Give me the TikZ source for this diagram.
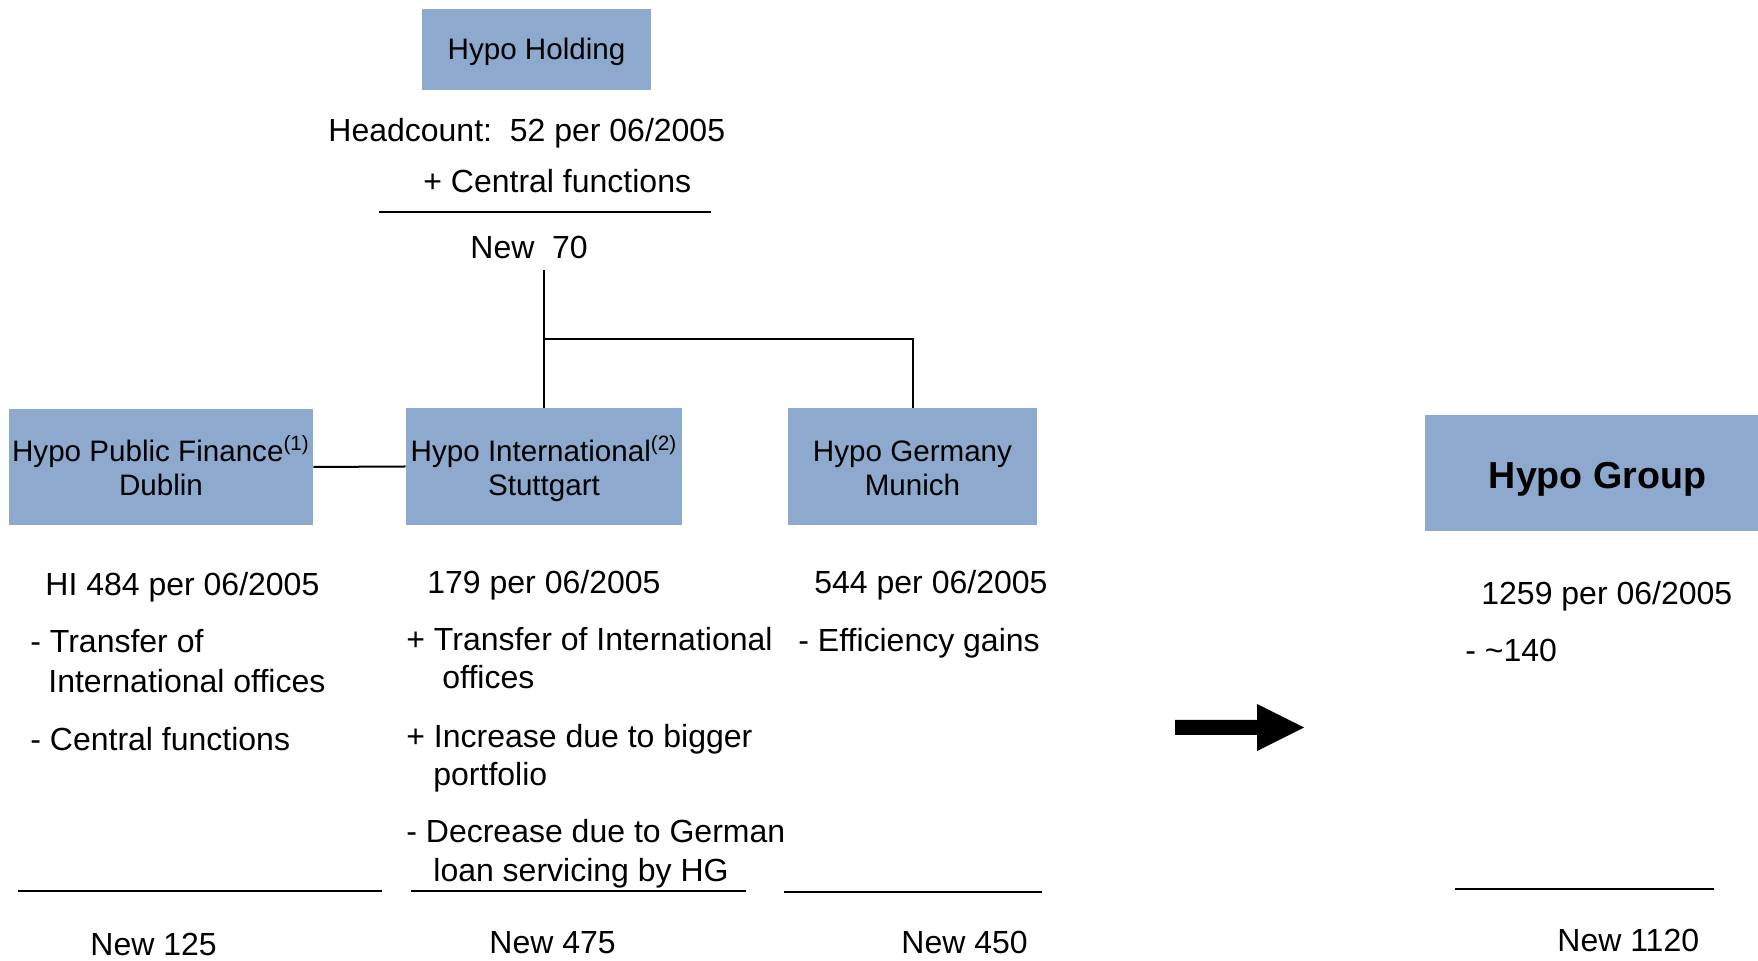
\documentclass[tikz,border=0pt]{standalone}
\usepackage{fontspec}
\setmainfont{Liberation Sans}
\newcommand{\boxlines}[2]{\raisebox{-#1}[0pt][0pt]{\begin{tabular}[b]{@{}c@{}}#2\end{tabular}}}
\begin{document}
\begin{tikzpicture}[x=0.5pt,y=-0.5pt,
  box/.style={fill=boxblue,draw=none,inner sep=0pt,align=center,font=\fontsize{14.8}{17.3}\selectfont},
  txt/.style={anchor=base west,inner sep=0pt,font=\fontsize{16}{19}\selectfont},
  conn/.style={line width=1pt,black},
  rule/.style={line width=1pt,black}]
\definecolor{boxblue}{RGB}{141,169,205}
\useasboundingbox (0,0) rectangle (1758,961);
% boxes
\node[box,minimum width=114.5pt,minimum height=40.5pt] (hold) at (536.5,49.5) {\raisebox{-5.25pt}[0pt][0pt]{Hypo Holding}};
\node[box,minimum width=152pt,minimum height=58pt] (dub) at (161,467) {\boxlines{14.5pt}{Hypo Public Finance\textsuperscript{(1)}\\Dublin}};
\node[box,minimum width=138pt,minimum height=58.5pt] (stu) at (544,466.5) {\boxlines{14.75pt}{Hypo International\textsuperscript{(2)}\\Stuttgart}};
\node[box,minimum width=124.5pt,minimum height=58.5pt] (mun) at (912.5,466.5) {\boxlines{14.75pt}{Hypo Germany\\Munich}};
\node[box,minimum width=166.5pt,minimum height=58pt,font=\fontsize{18.8}{22}\selectfont\bfseries] (grp) at (1591.5,473) {\hspace*{6pt}\raisebox{-8pt}[0pt][0pt]{Hypo Group}};
% holding texts
\node[txt] (hc) at (328,142) {Headcount:\ \ 52 per 06/2005};
\node[txt] (cf) at (423,193) {+ Central functions};
\draw[rule] (379,212) -- (711,212);
\node[txt] (n70) at (470,259) {New\ \ 70};
% connectors
\coordinate (top) at (544,270);
\coordinate (junc) at (544,339);
\draw[conn] (top) -- (stu.north);
\draw[conn] (junc) -| (mun.north);
\draw[conn] (dub.east) -- (stu.west);
% Dublin column
\node[txt] (d1) at (45,596) {HI 484 per 06/2005};
\node[txt] (d2) at (30,653) {- Transfer of};
\node[txt] (d3) at (48,693) {International offices};
\node[txt] (d4) at (30,751) {- Central functions};
\draw[rule] (18,891) -- (382,891);
\node[txt] (d5) at (90,956) {New 125};
% Stuttgart column
\node[txt] (s1) at (427,594) {179 per 06/2005};
\node[txt] (s2) at (406,651) {+ Transfer of International};
\node[txt] (s3) at (442,689) {offices};
\node[txt] (s4) at (406,748) {+ Increase due to bigger};
\node[txt] (s5) at (433,786) {portfolio};
\node[txt] (s6) at (406,843) {- Decrease due to German};
\node[txt] (s7) at (433,882) {loan servicing by HG};
\draw[rule] (411,891) -- (746,891);
\node[txt] (s8) at (489,954) {New 475};
% Munich column
\node[txt] (m1) at (814,594) {544 per 06/2005};
\node[txt] (m2) at (798,652) {- Efficiency gains};
\draw[rule] (784,892) -- (1042,892);
\node[txt] (m3) at (901,954) {New 450};
% Group column
\node[txt] (g1) at (1481,605) {1259 per 06/2005};
\node[txt] (g2) at (1465,662) {- \textasciitilde140};
\draw[rule] (1455,889) -- (1714,889);
\node[txt] (g3) at (1557,952) {New 1120};
% big arrow
\fill[black] (1175,720) -- (1257,720) -- (1257,704) -- (1304,727.5) -- (1257,751) -- (1257,735) -- (1175,735) -- cycle;
\end{tikzpicture}
\end{document}
